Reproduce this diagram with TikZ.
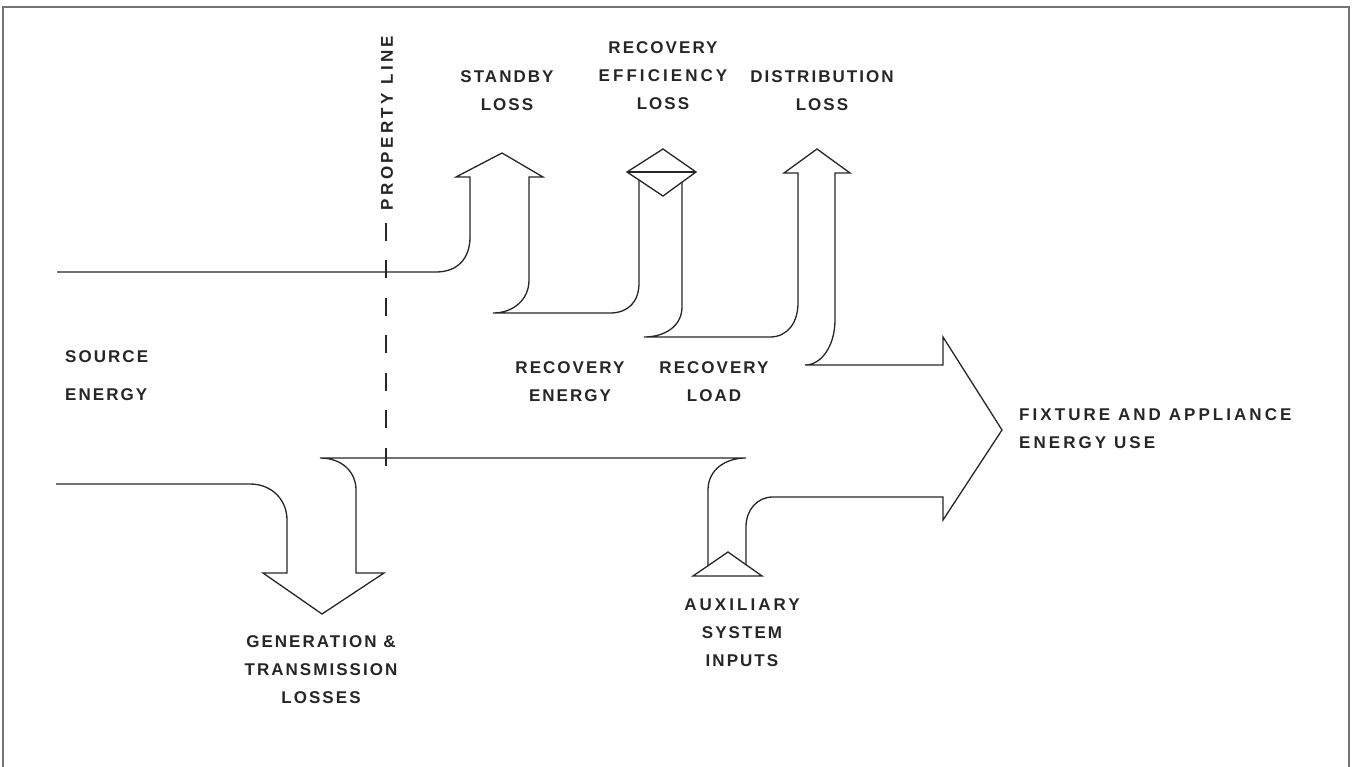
\documentclass[tikz,border=0pt]{standalone}
\usepackage{fontspec}
\setmainfont{Liberation Sans}[LetterSpace=12]
\begin{document}
\begin{tikzpicture}[x=1pt,y=-1pt]
\tikzset{
  lab/.style={font=\bfseries\fontsize{17}{28}\selectfont, align=center, inner sep=0pt, text=black!85},
  flow/.style={draw=black!85, line width=1.3pt, line join=miter},
  frameline/.style={draw=black!55, line width=2pt},
  propline/.style={draw=black!85, line width=1.3pt, dash pattern=on 18pt off 19.5pt}
}
\useasboundingbox (0,0) rectangle (1353,767);
% frame
\draw[frameline] (3,767) -- (3,7) -- (1349,7) -- (1349,767);

% property line
\coordinate (plTop) at (386,223);
\coordinate (plBot) at (386,467);
\draw[propline] (plTop) -- (plBot);
\node[lab, rotate=90, font=\bfseries\fontsize{17}{28}\selectfont\addfontfeature{LetterSpace=20}] (pltext) at (387,123) {PROPERTY LINE};

% standby flow
\draw[flow] (57,272) -- (436,272) .. controls (458,272) and (470,258) .. (470,237)
  -- (470,177) -- (456,177) -- (502,153) -- (543,177) -- (529,177) -- (529,280)
  .. controls (529,300) and (513,313) .. (493,313) -- (610,313)
  .. controls (628,313) and (639,302) .. (639,283) -- (639,180);
% recovery efficiency diamond
\draw[flow] (627,172) -- (663,149) -- (696,172) -- (663,196) -- cycle;
\draw[flow] (627,172) -- (696,172);
% recovery load / distribution / fixture arrow
\draw[flow] (682,182) -- (682,307) .. controls (682,326) and (665,337) .. (644,337)
  -- (770,337) .. controls (788,337) and (798,322) .. (798,303)
  -- (798,173) -- (784,173) -- (817,149) -- (850,173) -- (835,173) -- (835,320)
  .. controls (835,345) and (822,365) .. (805,365)
  -- (943,365) -- (943,337) -- (1002,430) -- (943,520) -- (943,497) -- (773,497)
  .. controls (757,497) and (746,510) .. (746,527) -- (746,565);
% auxiliary triangle
\draw[flow] (693,576) -- (728,552) -- (762,576) -- cycle;
% auxiliary left shaft, middle line, generation arrow
\draw[flow] (708,566) -- (708,490) .. controls (708,470) and (725,458) .. (746,458)
  -- (320,458) .. controls (342,458) and (356,472) .. (356,490)
  -- (356,573) -- (384,573) -- (322,614) -- (263,573) -- (287,573) -- (287,520)
  .. controls (287,500) and (272,484) .. (250,484) -- (56,484);

% labels
\node[lab] (standby) at (507,90.5) {STANDBY\\LOSS};
\node[lab] (receff) at (663,76) {RECOVERY\\{\addfontfeature{LetterSpace=18}EFFICIENCY}\\LOSS};
\node[lab] (dist) at (822,90.5) {DISTRIBUTION\\LOSS};
\node[lab, anchor=west, align=left, font=\bfseries\fontsize{17}{38}\selectfont] (source) at (65,376) {SOURCE\\ENERGY};
\node[lab] (recenergy) at (570,382) {RECOVERY\\ENERGY};
\node[lab] (recload) at (714,382) {RECOVERY\\LOAD};
\node[lab, anchor=west, align=left, font=\bfseries\fontsize{17}{28}\selectfont\addfontfeature{LetterSpace=18}] (fixture) at (1019,429) {FIXTURE AND APPLIANCE\\ENERGY USE};
\node[lab] (gen) at (321,670) {GENERATION \&\\TRANSMISSION\\LOSSES};
\node[lab] (aux) at (742,633) {{\addfontfeature{LetterSpace=18}AUXILIARY}\\SYSTEM\\INPUTS};
\end{tikzpicture}
\end{document}
